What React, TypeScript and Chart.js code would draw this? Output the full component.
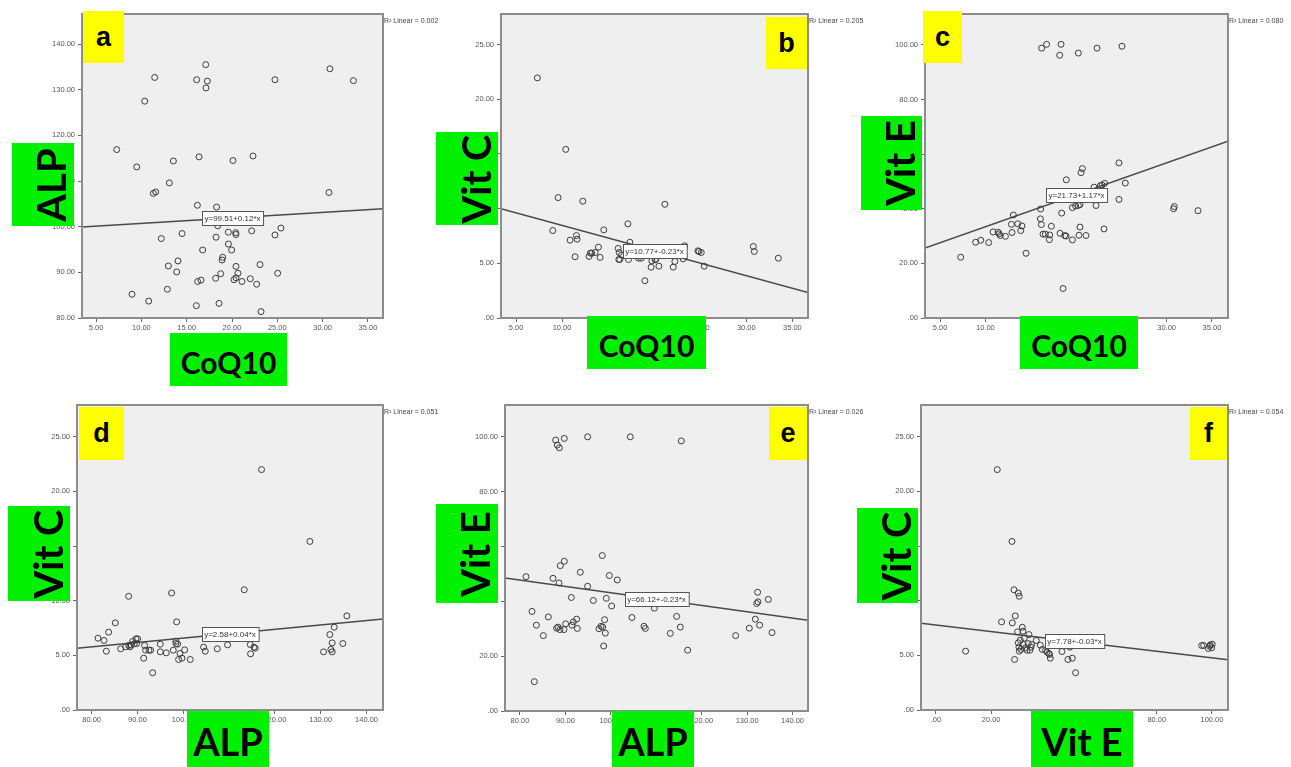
import React, { useEffect, useRef } from "react";
import { Chart, registerables } from "chart.js";

Chart.register(...registerables);

// ---------- DATA ----------
// Panel a: CoQ10 (x) vs ALP (y)
const coq10A = [7.28, 9.49, 8.97, 10.37, 10.81, 11.47, 11.32, 11.58, 12.2, 13.09, 13.53, 12.98, 12.87, 13.9, 14.04, 14.49, 16.1, 17.1, 17.28, 17.13, 16.36, 16.18, 18.3, 18.42, 18.24, 16.76, 16.21, 16.58, 16.07, 18.57, 18.2, 18.75, 18.9, 18.97, 19.6, 19.6, 19.96, 20.11, 20.4, 20.44, 20.44, 20.22, 20.44, 20.66, 21.1, 22.02, 22.17, 22.32, 22.72, 23.09, 23.2, 24.74, 24.74, 25.4, 25.04, 30.7, 30.8, 33.4];
const alpA = [116.9, 113.1, 85.2, 127.5, 83.7, 132.7, 107.3, 107.6, 97.4, 109.6, 114.4, 91.4, 86.3, 90.1, 92.5, 98.5, 132.2, 135.5, 131.9, 130.4, 115.3, 104.7, 104.3, 100.2, 97.7, 94.9, 88.0, 88.3, 82.7, 83.2, 88.7, 89.7, 92.7, 93.3, 98.8, 96.2, 94.9, 114.5, 98.7, 98.3, 91.3, 88.4, 88.8, 89.8, 88.0, 88.6, 99.1, 115.5, 87.4, 91.7, 81.4, 132.2, 98.2, 99.7, 89.8, 107.5, 134.6, 132.0];

// Panel b: CoQ10 (x) vs Vit C (y)
const coq10B = [7.32, 10.4, 9.57, 12.25, 8.99, 10.87, 11.56, 11.63, 11.41, 12.93, 13.08, 13.22, 13.59, 13.95, 14.13, 14.53, 17.14, 17.36, 16.09, 16.2, 16.45, 16.16, 16.27, 17.21, 18.3, 18.59, 18.99, 19.67, 19.75, 20.11, 20.18, 20.51, 21.16, 22.07, 22.25, 23.15, 23.3, 24.75, 24.86, 25.11, 25.43, 30.76, 30.87, 33.48, 18.12, 19.38, 20.65, 21.74, 22.64, 17.39, 18.84];
const vitCB = [21.96, 15.42, 11.01, 10.68, 8.0, 7.12, 7.54, 7.21, 5.6, 5.63, 5.93, 5.93, 5.99, 6.48, 5.54, 8.06, 8.61, 6.93, 6.36, 5.99, 5.75, 5.35, 5.35, 5.35, 5.47, 5.47, 3.41, 4.65, 5.23, 5.32, 5.38, 4.74, 10.4, 4.65, 5.17, 5.41, 6.6, 6.14, 6.08, 5.99, 4.74, 6.54, 6.08, 5.47, 5.84, 6.14, 5.93, 6.3, 5.84, 5.99, 6.45];

// Panel c: CoQ10 (x) vs Vit E (y)
const coq10C = [7.28, 8.93, 9.49, 10.37, 10.85, 11.4, 11.51, 11.65, 12.21, 12.94, 12.87, 13.09, 13.57, 14.04, 13.9, 14.49, 16.1, 16.07, 16.18, 16.36, 16.62, 17.1, 17.06, 17.28, 18.24, 18.42, 18.75, 18.9, 18.93, 18.57, 19.6, 19.96, 20.26, 20.44, 19.6, 20.33, 20.44, 21.1, 20.55, 20.7, 21.99, 22.21, 22.68, 22.87, 23.16, 23.09, 24.74, 24.74, 25.44, 30.77, 30.85, 33.46, 16.21, 16.76, 18.35, 18.2, 20.26, 22.32, 25.07];
const vitEC = [22.26, 27.74, 28.47, 27.62, 31.5, 31.4, 30.8, 30.2, 29.9, 31.3, 34.3, 37.7, 34.5, 33.7, 32.0, 23.7, 39.9, 36.3, 34.2, 30.7, 30.7, 30.4, 28.7, 33.6, 31.0, 38.4, 30.2, 30.0, 50.6, 10.8, 40.4, 41.0, 41.2, 41.5, 28.6, 30.3, 33.3, 30.2, 53.2, 54.7, 47.9, 41.2, 48.4, 48.7, 49.3, 32.6, 56.8, 43.4, 49.4, 40.0, 40.8, 39.3, 98.8, 100.2, 100.2, 96.2, 97.0, 98.8, 99.5];

// Panel d: ALP (x) vs Vit C (y)
const alpD = [81.38, 82.69, 83.2, 83.71, 85.16, 86.33, 87.42, 88.07, 88.07, 88.36, 88.65, 88.95, 89.31, 89.67, 90.04, 89.82, 91.56, 91.35, 91.78, 92.51, 92.87, 93.31, 94.98, 94.98, 96.29, 97.45, 97.82, 98.4, 98.4, 98.55, 98.76, 98.98, 99.27, 99.71, 100.29, 101.53, 104.44, 104.8, 107.42, 109.67, 113.31, 114.62, 114.69, 115.42, 115.71, 117.09, 127.64, 130.62, 132.0, 132.22, 132.51, 132.51, 132.95, 134.84, 135.71];
const vitCD = [6.57, 6.36, 5.38, 7.12, 7.97, 5.6, 5.78, 10.4, 5.9, 5.78, 5.96, 6.27, 6.05, 6.51, 6.51, 6.08, 5.9, 4.74, 5.47, 5.47, 5.47, 3.41, 6.02, 5.32, 5.23, 10.7, 5.47, 6.3, 6.08, 8.06, 6.02, 4.62, 5.17, 4.74, 5.5, 4.62, 5.75, 5.38, 5.6, 5.96, 11.0, 5.99, 5.14, 5.75, 5.66, 21.99, 15.42, 5.32, 6.9, 5.54, 6.14, 5.32, 7.57, 6.08, 8.61];

// Panel e: ALP (x) vs Vit E (y)
const alpE = [81.32, 82.64, 83.15, 83.6, 85.14, 86.24, 87.27, 87.85, 88.22, 88.66, 89.76, 88.07, 88.37, 88.8, 88.58, 88.88, 89.76, 89.68, 90.05, 91.3, 91.45, 91.74, 92.47, 92.62, 93.28, 94.89, 94.89, 96.14, 97.39, 97.83, 98.2, 98.12, 98.42, 98.63, 98.78, 99.0, 99.66, 100.18, 101.42, 104.28, 104.65, 107.29, 107.59, 109.57, 113.09, 114.48, 115.29, 115.51, 116.9, 127.47, 130.48, 131.8, 132.09, 132.39, 132.31, 132.75, 134.66, 135.47];
const vitEE = [49.0, 36.3, 10.7, 31.3, 27.5, 34.3, 48.4, 98.8, 97.0, 96.0, 99.4, 30.2, 30.6, 29.7, 46.7, 53.0, 54.6, 29.7, 31.8, 41.4, 31.3, 32.5, 33.5, 30.1, 50.6, 100.0, 45.5, 40.3, 30.0, 30.9, 30.6, 56.7, 23.7, 33.3, 28.4, 41.1, 49.4, 38.3, 47.8, 100.0, 34.1, 30.9, 30.1, 37.5, 28.3, 34.5, 30.6, 98.5, 22.2, 27.5, 30.2, 33.5, 39.2, 39.8, 43.3, 31.3, 40.7, 28.6];

// Panel f: Vit E (x) vs Vit C (y)
const vitEF = [10.75, 22.22, 23.79, 27.54, 27.66, 28.26, 28.5, 28.74, 29.83, 30.19, 29.59, 29.83, 30.07, 30.19, 30.56, 30.8, 31.28, 31.52, 31.64, 32.0, 32.49, 32.97, 33.45, 33.7, 34.06, 34.42, 34.66, 36.35, 37.8, 38.53, 39.73, 40.22, 40.94, 41.43, 41.18, 45.65, 47.83, 49.4, 50.6, 48.55, 96.26, 96.98, 98.67, 99.4, 99.88, 100.1, 99.15];
const vitCF = [5.38, 21.99, 8.06, 15.42, 7.97, 11.0, 4.62, 8.61, 10.7, 10.4, 7.15, 6.14, 5.75, 5.38, 6.39, 5.54, 7.57, 7.21, 5.99, 6.57, 5.69, 5.47, 6.08, 6.9, 5.47, 5.75, 5.99, 6.36, 5.93, 5.54, 5.47, 5.29, 5.17, 4.74, 5.08, 5.35, 4.62, 4.74, 3.41, 5.75, 5.9, 5.9, 5.63, 5.96, 5.69, 6.02, 5.84];

// Fit lines: [intercept, slope] and R² values
const fitIntercepts = [99.51, 10.77, 21.73, 2.58, 66.12, 7.78];
const fitSlopes = [0.12, -0.23, 1.17, 0.04, -0.23, -0.03];
const r2Values = ["0.002", "0.205", "0.080", "0.051", "0.026", "0.054"];

// Tick labels
const ticksCoQ10 = [5, 10, 15, 20, 25, 30, 35];
const ticksALPx = [80, 90, 100, 110, 120, 130, 140];
const ticksVitEx = [0, 20, 40, 60, 80, 100];
const ticksALPy = [80, 90, 100, 110, 120, 130, 140];
const ticksVitCy = [0, 5, 10, 15, 20, 25];
const ticksVitEy = [0, 20, 40, 60, 80, 100];

// Panel letters & axis titles
const panelLetters = ["a", "b", "c", "d", "e", "f"];
const xTitles = ["CoQ10", "CoQ10", "CoQ10", "ALP", "ALP", "Vit E"];
const yTitles = ["ALP", "Vit C", "Vit E", "Vit C", "Vit E", "Vit C"];

// ---------- LAYOUT ----------
type Rect = [number, number, number, number];
interface PanelDef {
  xs: number[];
  ys: number[];
  xr: [number, number];
  yr: [number, number];
  xt: number[];
  yt: number[];
  plot: Rect; // l,t,r,b (page px)
  yellow: Rect;
  gy: Rect; // vertical green label box
  gx: Rect; // horizontal green label box
  gxSize: number;
}

const panels: PanelDef[] = [
  { xs: coq10A, ys: alpA, xr: [3.45, 36.66], yr: [80, 146.6], xt: ticksCoQ10, yt: ticksALPy,
    plot: [82, 14, 383, 318], yellow: [83, 11, 124, 63], gy: [12, 143, 74, 226], gx: [170, 333, 287, 386], gxSize: 30 },
  { xs: coq10B, ys: vitCB, xr: [3.37, 36.7], yr: [0, 27.8], xt: ticksCoQ10, yt: ticksVitCy,
    plot: [501, 14, 808, 318], yellow: [766, 17, 807, 69], gy: [436, 132, 498, 225], gx: [587, 316, 706, 369], gxSize: 30 },
  { xs: coq10C, ys: vitEC, xr: [3.34, 36.77], yr: [0, 111.3], xt: ticksCoQ10, yt: ticksVitEy,
    plot: [925, 14, 1228, 318], yellow: [923, 11, 962, 63], gy: [861, 116, 922, 210], gx: [1020, 316, 1138, 369], gxSize: 30 },
  { xs: alpD, ys: vitCD, xr: [76.8, 143.6], yr: [0, 27.9], xt: ticksALPx, yt: ticksVitCy,
    plot: [77, 405, 383, 710], yellow: [79, 407, 124, 460], gy: [8, 506, 70, 601], gx: [187, 711, 269, 767], gxSize: 38 },
  { xs: alpE, ys: vitEE, xr: [76.7, 143.4], yr: [0, 111.6], xt: ticksALPx, yt: ticksVitEy,
    plot: [505, 405, 808, 711], yellow: [769, 407, 807, 460], gy: [436, 504, 498, 603], gx: [612, 711, 694, 767], gxSize: 38 },
  { xs: vitEF, ys: vitCF, xr: [-5.4, 105.8], yr: [0, 27.9], xt: ticksVitEx, yt: ticksVitCy,
    plot: [921, 405, 1228, 710], yellow: [1190, 407, 1227, 460], gy: [857, 508, 918, 603], gx: [1031, 711, 1133, 767], gxSize: 38 },
];

const PAD_L = 75, PAD_T = 10, PAD_R = 64, PAD_B = 32;
const TICK_FONT = { family: "Arial, 'Liberation Sans', sans-serif", size: 7.5 };
const fmt = (v: number) => (v === 0 ? ".00" : Number(v).toFixed(2));
const GREEN = "#00f000";
const LABEL_FONT = "Lato, 'Open Sans', 'DejaVu Sans', sans-serif";

function PanelChart({ p, idx }: { p: PanelDef; idx: number }) {
  const ref = useRef<HTMLCanvasElement>(null);
  const [l, t, r, b] = p.plot;
  const W = r - l + PAD_L + PAD_R;
  const H = b - t + PAD_T + PAD_B;

  useEffect(() => {
    if (!ref.current) return;
    const a0 = fitIntercepts[idx];
    const a1 = fitSlopes[idx];
    const eqText = `y=${a0.toFixed(2)}+${a1 < 0 ? "-" + Math.abs(a1).toFixed(2) : a1.toFixed(2)}*x`;
    const deco = {
      id: "deco",
      beforeDraw(chart: any) {
        const { ctx, chartArea } = chart;
        ctx.save();
        ctx.fillStyle = "#efefef";
        ctx.fillRect(chartArea.left, chartArea.top, chartArea.right - chartArea.left, chartArea.bottom - chartArea.top);
        ctx.restore();
      },
      afterDraw(chart: any) {
        const { ctx, chartArea, scales } = chart;
        ctx.save();
        // frame
        ctx.strokeStyle = "#8c8c8c";
        ctx.lineWidth = 2;
        ctx.strokeRect(chartArea.left, chartArea.top, chartArea.right - chartArea.left, chartArea.bottom - chartArea.top);
        // equation box at mid x on the fit line
        const xm = (p.xr[0] + p.xr[1]) / 2;
        const ym = a0 + a1 * xm;
        const px = scales.x.getPixelForValue(xm);
        const py = scales.y.getPixelForValue(ym);
        ctx.font = "8px Arial, 'Liberation Sans', sans-serif";
        const tw = ctx.measureText(eqText).width;
        const bw = tw + 5, bh = 14;
        const bx = Math.round(px - bw / 2) + 0.5, by = Math.round(py - bh / 2) + 0.5;
        ctx.fillStyle = "#ffffff";
        ctx.fillRect(bx, by, bw, bh);
        ctx.strokeStyle = "#555555";
        ctx.lineWidth = 1;
        ctx.strokeRect(bx, by, bw, bh);
        ctx.fillStyle = "#333333";
        ctx.textBaseline = "middle";
        ctx.textAlign = "center";
        ctx.fillText(eqText, px, by + bh / 2 + 0.5);
        // R² label
        ctx.font = "7px Arial, 'Liberation Sans', sans-serif";
        ctx.textAlign = "left";
        ctx.fillStyle = "#444444";
        ctx.fillText(`R\u00B2 Linear = ${r2Values[idx]}`, chartArea.right + 1, chartArea.top + 7);
        ctx.restore();
      },
    };

    const chart = new Chart(ref.current, {
      type: "scatter",
      data: {
        datasets: [
          {
            type: "line",
            data: [
              { x: p.xr[0], y: a0 + a1 * p.xr[0] },
              { x: p.xr[1], y: a0 + a1 * p.xr[1] },
            ],
            borderColor: "#4a4a4a",
            borderWidth: 1.5,
            pointRadius: 0,
            fill: false,
            order: 2,
          } as any,
          {
            type: "scatter",
            data: p.xs.map((x, i) => ({ x, y: p.ys[i] })),
            pointRadius: 3,
            pointBorderWidth: 1,
            pointBorderColor: "#3c3c3c",
            pointBackgroundColor: "rgba(0,0,0,0)",
            order: 1,
          } as any,
        ],
      },
      options: {
        animation: false,
        responsive: false,
        devicePixelRatio: 1,
        events: [],
        layout: { padding: { left: 0, top: PAD_T, right: PAD_R, bottom: 0 } },
        plugins: { legend: { display: false }, tooltip: { enabled: false } },
        scales: {
          x: {
            type: "linear",
            min: p.xr[0],
            max: p.xr[1],
            afterBuildTicks: (s: any) => { s.ticks = p.xt.map((v) => ({ value: v })); },
            afterFit: (s: any) => { s.height = PAD_B; },
            ticks: { callback: (v: any) => fmt(v), font: TICK_FONT, color: "#555", padding: 1.5, maxRotation: 0, autoSkip: false },
            grid: { display: true, drawOnChartArea: false, drawTicks: true, tickLength: 4, color: "#666", lineWidth: 1 },
            border: { display: false },
          },
          y: {
            type: "linear",
            min: p.yr[0],
            max: p.yr[1],
            afterBuildTicks: (s: any) => { s.ticks = p.yt.map((v) => ({ value: v })); },
            afterFit: (s: any) => { s.width = PAD_L; },
            ticks: { callback: (v: any) => fmt(v), font: TICK_FONT, color: "#555", padding: 3, autoSkip: false },
            grid: { display: true, drawOnChartArea: false, drawTicks: true, tickLength: 4, color: "#666", lineWidth: 1 },
            border: { display: false },
          },
        },
      } as any,
      plugins: [deco],
    });
    return () => chart.destroy();
  }, []);

  return (
    <canvas
      ref={ref}
      width={W}
      height={H}
      style={{ position: "absolute", left: l - PAD_L, top: t - PAD_T, width: W, height: H }}
    />
  );
}

function boxStyle(rc: Rect, bg: string): React.CSSProperties {
  return {
    position: "absolute",
    left: rc[0],
    top: rc[1],
    width: rc[2] - rc[0],
    height: rc[3] - rc[1],
    background: bg,
    display: "flex",
    alignItems: "center",
    justifyContent: "center",
    overflow: "visible",
  };
}

export default function App() {
  useEffect(() => {
    document.body.style.margin = "0";
    document.body.style.background = "#ffffff";
  }, []);
  return (
    <div style={{ position: "absolute", left: 0, top: 0, width: 1291, height: 767, background: "#ffffff", overflow: "hidden" }}>
      {panels.map((p, i) => (
        <PanelChart key={"c" + i} p={p} idx={i} />
      ))}
      {panels.map((p, i) => (
        <React.Fragment key={"l" + i}>
          <div style={boxStyle(p.yellow, "#ffff00")}>
            <span style={{ fontFamily: "Arial, 'Liberation Sans', sans-serif", fontWeight: 700, fontSize: 27, lineHeight: 1, color: "#000" }}>
              {panelLetters[i]}
            </span>
          </div>
          <div style={boxStyle(p.gy, GREEN)}>
            <span style={{ fontFamily: LABEL_FONT, fontWeight: 700, fontSize: 40, lineHeight: 1, color: "#000", whiteSpace: "nowrap", transform: "translate(8px, 0) rotate(-90deg)" }}>
              {yTitles[i]}
            </span>
          </div>
          <div style={boxStyle(p.gx, GREEN)}>
            <span style={{ fontFamily: LABEL_FONT, fontWeight: 700, fontSize: p.gxSize, lineHeight: 1, color: "#000", whiteSpace: "nowrap", transform: "translate(0, 2px)" }}>
              {xTitles[i]}
            </span>
          </div>
        </React.Fragment>
      ))}
    </div>
  );
}
